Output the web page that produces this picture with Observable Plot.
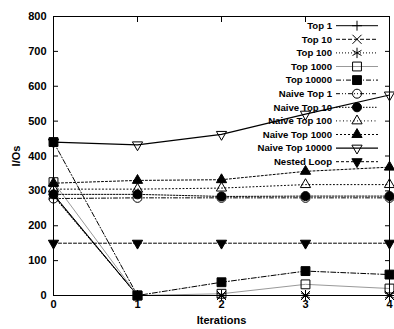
<!DOCTYPE html>
<html><head><meta charset="utf-8">
<script src="https://cdn.jsdelivr.net/npm/d3@7"></script>
<script src="https://cdn.jsdelivr.net/npm/@observablehq/plot@0.6"></script>
<style>
body{margin:0;background:#fff;}
#chart svg{font-family:"Liberation Sans",Arial,sans-serif;}
</style></head><body><div id="chart"></div>
<script>
// ---- data ----
const iterations = [0, 1, 2, 3, 4];
const seriesNames = ["Top 1", "Top 10", "Top 100", "Top 1000", "Top 10000",
  "Naive Top 1", "Naive Top 10", "Naive Top 100", "Naive Top 1000", "Naive Top 10000", "Nested Loop"];
const top1 = [290, 0, 0, 0, 0];
const top10 = [288, 0, 0, 0, 0];
const top100 = [285, 0, 0, 0, 0];
const top1000 = [325, 0, 5, 32, 20];
const top10000 = [440, 0, 38, 70, 60];
const naiveTop1 = [278, 280, 280, 280, 280];
const naiveTop10 = [290, 290, 284, 285, 285];
const naiveTop100 = [305, 305, 308, 318, 318];
const naiveTop1000 = [322, 330, 332, 356, 368];
const naiveTop10000 = [440, 432, 462, 520, 575];
const nestedLoop = [150, 150, 150, 150, 150];
const yTicks = [0, 100, 200, 300, 400, 500, 600, 700, 800];
const xTicks = [0, 1, 2, 3, 4];

const seriesValues = [top1, top10, top100, top1000, top10000, naiveTop1, naiveTop10,
  naiveTop100, naiveTop1000, naiveTop10000, nestedLoop];
const rows = seriesNames.flatMap((name, i) =>
  iterations.map((it, j) => ({series: name, iteration: it, ios: seriesValues[i][j]})));

// ---- styles ----
const triDown = {draw(ctx, size) {
  const s = Math.sqrt(size * 4 / Math.sqrt(3)), h = s * Math.sqrt(3) / 2;
  ctx.moveTo(0, 2 * h / 3); ctx.lineTo(-s / 2, -h / 3); ctx.lineTo(s / 2, -h / 3); ctx.closePath();
}};
const styles = [
  {symbol: d3.symbolPlus, fill: "none", r: 3.3, dash: null, line: "#000"},
  {symbol: d3.symbolTimes, fill: "none", r: 4.2, dash: "4,2", line: "#000"},
  {symbol: d3.symbolAsterisk, fill: "none", r: 4.9, dash: "1,2", line: "#000"},
  {symbol: d3.symbolSquare, fill: "none", r: 5, dash: null, line: "#999"},
  {symbol: d3.symbolSquare, fill: "#000", r: 5, dash: "5,2,1,2", line: "#000"},
  {symbol: d3.symbolCircle, fill: "none", r: 4.5, dash: "4,2,1,2,1,2", line: "#000"},
  {symbol: d3.symbolCircle, fill: "#000", r: 4.5, dash: "1.5,1.5", line: "#000"},
  {symbol: d3.symbolTriangle, fill: "none", r: 3.8, dash: "1,2.5", line: "#000"},
  {symbol: d3.symbolTriangle, fill: "#000", r: 3.8, dash: "2,2", line: "#000"},
  {symbol: triDown, fill: "none", r: 3.8, dash: null, line: "#000"},
  {symbol: triDown, fill: "#000", r: 3.8, dash: "3,2", line: "#000"}
];

const lineMarks = seriesNames.map((name, i) => Plot.line(rows.filter(d => d.series === name), {
  x: "iteration", y: "ios", stroke: styles[i].line, strokeWidth: i === 9 ? 1.2 : 1,
  strokeDasharray: styles[i].dash || undefined
}));
const dotMarks = seriesNames.map((name, i) => Plot.dot(rows.filter(d => d.series === name), {
  x: "iteration", y: "ios", symbol: styles[i].symbol, r: styles[i].r,
  fill: styles[i].fill, stroke: "#000", strokeWidth: 1
}));

const plot = Plot.plot({
  width: 394, height: 329,
  marginLeft: 53, marginRight: 5, marginTop: 16, marginBottom: 34,
  style: {fontSize: "11px", fontWeight: "bold", fontFamily: "Liberation Sans, Arial, sans-serif", color: "#000", background: "#fff"},
  x: {domain: [0, 4]},
  y: {domain: [0, 800]},
  marks: [
    Plot.axisY({ticks: yTicks, tickSize: -5, tickPadding: 12, tickFormat: "d", label: "I/Os", labelAnchor: "center", labelArrow: "none", labelOffset: 41}),
    Plot.axisY({anchor: "right", ticks: yTicks, tickSize: -5, tickFormat: () => "", label: null}),
    Plot.axisX({ticks: xTicks, tickSize: -5, tickPadding: 10, tickFormat: "d", label: "Iterations", labelAnchor: "center", labelArrow: "none", labelOffset: 28}),
    Plot.axisX({anchor: "top", ticks: xTicks, tickSize: -5, tickFormat: () => "", label: null}),
    ...lineMarks,
    ...dotMarks,
    Plot.frame({stroke: "#000", strokeWidth: 1})
  ]
});

// ---- legend (inside plot, top right) ----
const svg = d3.select(plot);
const lg = svg.append("g").attr("font-size", 9.6).attr("font-weight", "bold").attr("font-family", "Liberation Sans, Arial, sans-serif");
seriesNames.forEach((name, i) => {
  const y = 25.7 + i * 13.6;
  lg.append("text").attr("x", 332).attr("y", y).attr("dy", "0.35em").attr("text-anchor", "end").attr("fill", "#000").text(name);
  lg.append("line").attr("x1", 336).attr("x2", 378).attr("y1", y).attr("y2", y)
    .attr("stroke", styles[i].line).attr("stroke-width", i === 9 ? 1.2 : 1)
    .attr("stroke-dasharray", styles[i].dash);
  lg.append("path").attr("transform", `translate(357,${y})`)
    .attr("d", d3.symbol(styles[i].symbol, Math.PI * styles[i].r * styles[i].r)())
    .attr("fill", styles[i].fill).attr("stroke", "#000");
});

document.getElementById("chart").appendChild(plot);
</script>
</body></html>
